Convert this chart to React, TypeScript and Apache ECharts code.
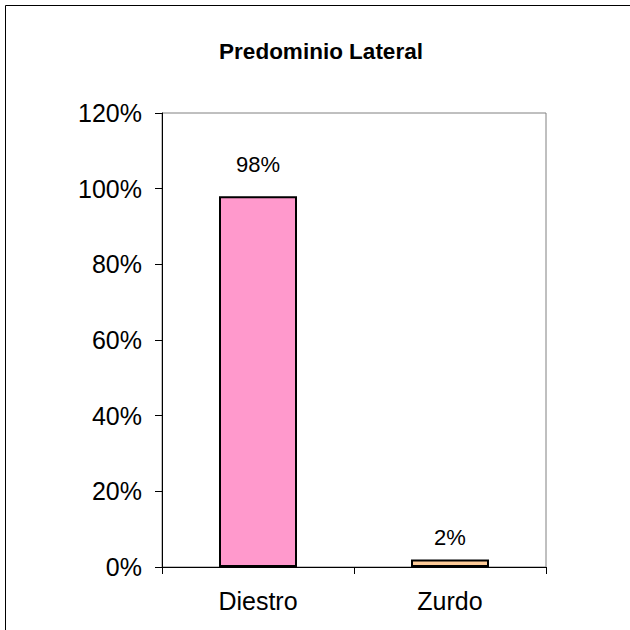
import React, { useEffect, useRef } from "react";
import * as echarts from "echarts";

const categories = ["Diestro", "Zurdo"];
const values = [98, 2];
const barColors = ["#FF99CC", "#FFCC99"];
const yTicks = [0, 20, 40, 60, 80, 100, 120];
const titleText = "Predominio Lateral";

export default function App() {
  const ref = useRef<HTMLDivElement>(null);
  useEffect(() => {
    if (!ref.current) return;
    const chart = echarts.init(ref.current, undefined, { renderer: "svg" });
    const font = "'Liberation Sans', Arial, sans-serif";
    const labelDistances = [21, 11];
    chart.setOption({
      animation: false,
      backgroundColor: "#ffffff",
      title: {
        text: titleText,
        left: 316,
        textAlign: "center",
        top: 35,
        textStyle: { fontFamily: font, fontSize: 22.5, fontWeight: "bold", color: "#000" },
      },
      graphic: [
        {
          type: "rect",
          shape: { x: 5.5, y: 5.5, width: 700, height: 700 },
          style: { fill: "none", stroke: "#000", lineWidth: 1 },
          silent: true,
        },
      ],
      grid: {
        left: 162,
        top: 113,
        right: 84,
        bottom: 63,
        show: true,
        borderColor: "#808080",
        borderWidth: 1,
        backgroundColor: "transparent",
      },
      xAxis: {
        type: "category",
        data: categories,
        boundaryGap: true,
        axisLine: { lineStyle: { color: "#000", width: 1 } },
        axisTick: { show: true, length: 7, inside: false, lineStyle: { color: "#000" } },
        axisLabel: { fontFamily: font, fontSize: 25, color: "#000", margin: 21 },
      },
      yAxis: {
        type: "value",
        min: yTicks[0],
        max: yTicks[yTicks.length - 1],
        interval: yTicks[1] - yTicks[0],
        axisLine: { show: true, lineStyle: { color: "#000", width: 1 } },
        axisTick: { show: true, length: 7, inside: false, lineStyle: { color: "#000" } },
        splitLine: { show: false },
        axisLabel: { fontFamily: font, fontSize: 25, color: "#000", margin: 20, formatter: "{value}%" },
      },
      series: [
        {
          type: "bar",
          barWidth: 78,
          data: values.map((v, i) => ({
            value: v,
            itemStyle: { color: barColors[i], borderColor: "#000", borderWidth: 2 },
            label: { distance: labelDistances[i] },
          })),
          label: {
            show: true,
            position: "top",
            formatter: "{c}%",
            fontFamily: font,
            fontSize: 22,
            color: "#000",
          },
        },
      ],
    });
    return () => chart.dispose();
  }, []);
  return (
    <div
      ref={ref}
      style={{ position: "fixed", left: 0, top: 0, width: 630, height: 630 }}
    />
  );
}
